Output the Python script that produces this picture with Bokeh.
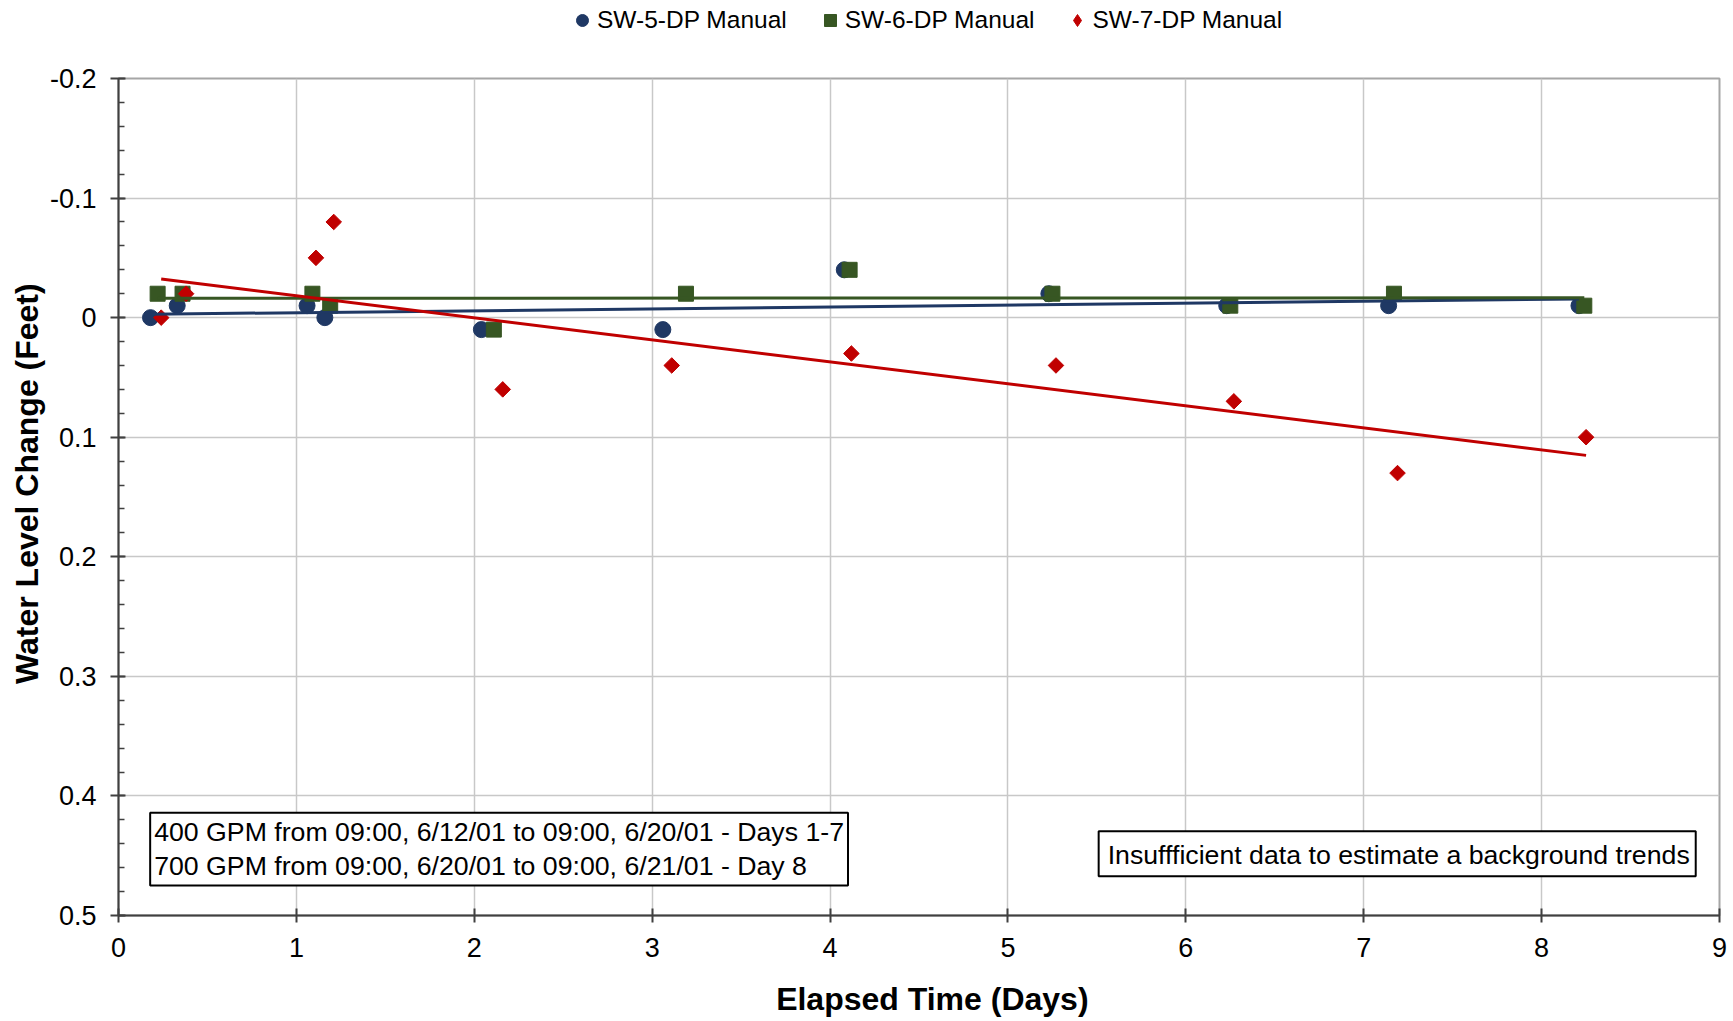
import numpy as np
from bokeh.plotting import figure
from bokeh.layouts import column
from bokeh.models import Range1d, FixedTicker, Legend, LegendItem, Label
from bokeh.embed import file_html
from bokeh.resources import INLINE

# ---- data ----
sw5_x = [0.18, 0.33, 1.06, 1.16, 2.04, 3.06, 4.08, 5.23, 6.23, 7.14, 8.21]
sw5_y = [0.00, -0.01, -0.01, 0.00, 0.01, 0.01, -0.04, -0.02, -0.01, -0.01, -0.01]
sw6_x = [0.22, 0.36, 1.09, 1.19, 2.11, 3.19, 4.11, 5.25, 6.25, 7.17, 8.24]
sw6_y = [-0.02, -0.02, -0.02, -0.01, 0.01, -0.02, -0.04, -0.02, -0.01, -0.02, -0.01]
sw7_x = [0.24, 0.38, 1.11, 1.21, 2.16, 3.11, 4.12, 5.27, 6.27, 7.19, 8.25]
sw7_y = [0.00, -0.02, -0.05, -0.08, 0.06, 0.04, 0.03, 0.04, 0.07, 0.13, 0.10]

series_names = ["SW-5-DP Manual", "SW-6-DP Manual", "SW-7-DP Manual"]
x_ticks = [0, 1, 2, 3, 4, 5, 6, 7, 8, 9]
x_tick_labels = ["0", "1", "2", "3", "4", "5", "6", "7", "8", "9"]
y_ticks = [-0.2, -0.1, 0.0, 0.1, 0.2, 0.3, 0.4, 0.5]
y_tick_labels = ["-0.2", "-0.1", "0", "0.1", "0.2", "0.3", "0.4", "0.5"]
x_title = "Elapsed Time (Days)"
y_title = "Water Level Change (Feet)"
note1 = "400 GPM from 09:00, 6/12/01 to 09:00, 6/20/01 - Days 1-7\n700 GPM from 09:00, 6/20/01 to 09:00, 6/21/01 - Day 8"
note2 = "Insuffficient data to estimate a background trends"

BLUE = "#1f3864"
GREEN = "#375623"
RED = "#c00000"
FONT = "Liberation Sans"
W = 1730
TOP_H = 60
MAIN_H = 961
NB = "\u00a0" * 3  # small lead-in so the titles sit where the reference has them

# ---- main chart ----
p = figure(width=W, height=MAIN_H, x_range=Range1d(0, 9), y_range=Range1d(0.5, -0.2),
           output_backend="svg", toolbar_location=None,
           min_border_left=118, min_border_right=11, min_border_top=18, min_border_bottom=106)
p.background_fill_color = "white"
p.outline_line_color = "#a6a6a6"
p.outline_line_width = 2

p.xaxis.ticker = FixedTicker(ticks=x_ticks)
p.xaxis.major_label_overrides = {t: l for t, l in zip(x_ticks, x_tick_labels)}
minor = [round(v, 2) for v in np.arange(-0.2, 0.5001, 0.02)]
p.yaxis.ticker = FixedTicker(ticks=y_ticks, minor_ticks=minor)
p.yaxis.major_label_overrides = {t: l for t, l in zip(y_ticks, y_tick_labels)}

for ax in (p.xaxis[0], p.yaxis[0]):
    ax.axis_line_color = "#404040"
    ax.axis_line_width = 2
    ax.major_tick_line_color = "#404040"
    ax.major_tick_line_width = 2
    ax.major_label_text_font = FONT
    ax.major_label_text_font_size = "27px"
    ax.major_label_text_color = "black"
    ax.axis_label_text_font = FONT
    ax.axis_label_text_font_size = "32px"
    ax.axis_label_text_font_style = "bold"
    ax.axis_label_text_color = "black"

p.xaxis.axis_label = NB + x_title
p.xaxis.major_tick_in = 7
p.xaxis.major_tick_out = 7
p.xaxis.minor_tick_line_color = None
p.xaxis.major_label_standoff = 15
p.xaxis.axis_label_standoff = 21

p.yaxis.axis_label = NB + y_title
p.yaxis.major_tick_in = 7
p.yaxis.major_tick_out = 8
p.yaxis.minor_tick_in = 6
p.yaxis.minor_tick_out = 0
p.yaxis.minor_tick_line_color = "#404040"
p.yaxis.minor_tick_line_width = 1.5
p.yaxis.major_label_standoff = 14
p.yaxis.axis_label_standoff = 2

p.xgrid.ticker = FixedTicker(ticks=x_ticks)
p.ygrid.ticker = FixedTicker(ticks=y_ticks)
p.xgrid.grid_line_color = "#c8c8c8"
p.ygrid.grid_line_color = "#c8c8c8"
p.xgrid.grid_line_width = 1.5
p.ygrid.grid_line_width = 1.5

p.scatter(sw5_x, sw5_y, marker="circle", size=16, fill_color=BLUE, line_color=BLUE)
p.scatter(sw6_x, sw6_y, marker="square", size=15, fill_color=GREEN, line_color=GREEN)
p.scatter(sw7_x, sw7_y, marker="square", angle=np.pi / 4, size=11, fill_color=RED, line_color=RED)

for xs, ys, col in ((sw5_x, sw5_y, BLUE), (sw6_x, sw6_y, GREEN), (sw7_x, sw7_y, RED)):
    k, b = np.polyfit(xs, ys, 1)
    x0, x1 = min(xs), max(xs)
    p.line([x0, x1], [k * x0 + b, k * x1 + b], line_color=col, line_width=3)

lab1 = Label(x=0.178, y=0.414, text=note1, text_align="left", text_baseline="top",
             text_font=FONT, text_font_size="26.7px", text_color="black",
             text_line_height=1.16,
             border_line_color="black", border_line_width=2, background_fill_color="white",
             padding=4)
lab2 = Label(x=5.51, y=0.4295, text=note2, text_align="left", text_baseline="top",
             text_font=FONT, text_font_size="26.7px", text_color="black",
             border_line_color="black", border_line_width=2, background_fill_color="white",
             padding=(9, 6, 9, 6))
p.add_layout(lab1)
p.add_layout(lab2)

# ---- legend strip above the chart (series drawn off-view; only their keys show) ----
top = figure(width=W, height=TOP_H, output_backend="svg", toolbar_location=None,
             min_border=0, x_range=Range1d(50, 51), y_range=Range1d(50, 51))
top.axis.visible = False
top.grid.visible = False
top.outline_line_color = None
k5 = top.scatter(sw5_x, sw5_y, marker="circle", fill_color=BLUE, line_color=BLUE)
k6 = top.scatter(sw6_x, sw6_y, marker="square", fill_color=GREEN, line_color=GREEN)
k7 = top.scatter(sw7_x, sw7_y, marker="diamond", fill_color=RED, line_color=RED)
legend = Legend(items=[LegendItem(label=series_names[0], renderers=[k5]),
                       LegendItem(label=series_names[1], renderers=[k6]),
                       LegendItem(label=series_names[2], renderers=[k7])],
                orientation="horizontal", location=(449, 25),
                glyph_width=30, glyph_height=30, label_standoff=0, spacing=28,
                padding=0, margin=0, border_line_color=None, background_fill_alpha=0,
                label_text_font=FONT, label_text_font_size="24.5px", label_text_color="black")
top.add_layout(legend, "center")

open("out.html", "w").write(file_html(column(top, p, spacing=0), INLINE))
